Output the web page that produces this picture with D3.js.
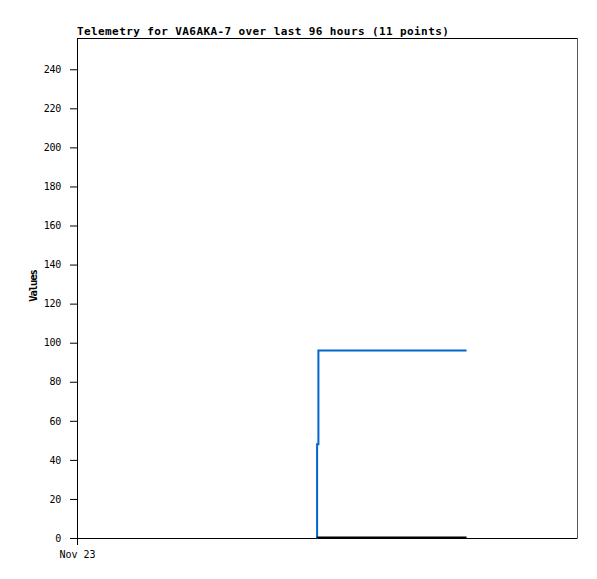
<!DOCTYPE html>
<html>
<head>
<meta charset="utf-8">
<script src="https://cdn.jsdelivr.net/npm/d3@7"></script>
<style>
  body { margin: 0; background: #fff; }
  text { font-family: "DejaVu Sans Mono", monospace; fill: #000; }
</style>
</head>
<body>
<div id="chart"></div>
<script>
// hours since Nov 23 00:00, 11 telemetry points
const hours = [46.05, 46.1, 46.35, 49.6, 52.8, 56.0, 59.3, 62.5, 65.8, 69.1, 74.8];
const chanA = [0, 48, 96, 96, 96, 96, 96, 96, 96, 96, 96];
const chanB = [0, 0, 0, 0, 0, 0, 0, 0, 0, 0, 0];
const yTicks = [0, 20, 40, 60, 80, 100, 120, 140, 160, 180, 200, 220, 240];
const start = new Date(2023, 10, 23, 0, 0);

const W = 597, H = 579;
const margin = {top: 38, right: 20, bottom: 41, left: 77};
const width = W - margin.left - margin.right;
const height = H - margin.top - margin.bottom;

const svg = d3.select('#chart').append('svg')
  .attr('width', W).attr('height', H);

const g = svg.append('g')
  .attr('transform', `translate(${margin.left}, ${margin.top})`);

const x = d3.scaleTime()
  .domain([start, d3.timeHour.offset(start, 96)])
  .range([0, width]);
const y = d3.scaleLinear().domain([0, 256]).range([height, 0]);

const t = h => new Date(start.getTime() + h * 3600e3);

// frame
g.append('line').attr('x1', 0).attr('x2', width).attr('y1', 0.5).attr('y2', 0.5)
  .attr('stroke', '#000');
g.append('line').attr('x1', width + 0.5).attr('x2', width + 0.5).attr('y1', 0).attr('y2', height)
  .attr('stroke', '#555');

// y axis
const yAxis = g.append('g')
  .call(d3.axisLeft(y).tickValues(yTicks).tickSize(7).tickPadding(9).tickSizeOuter(0));
yAxis.select('.domain').attr('stroke', '#000');
yAxis.selectAll('text').style('font-size', '10px').style('letter-spacing', '-0.3px');

// x axis
const xAxis = g.append('g')
  .attr('transform', `translate(0, ${height})`)
  .call(d3.axisBottom(x).tickValues([start]).tickSize(7).tickPadding(5).tickSizeOuter(0)
    .tickFormat(d3.timeFormat('%b %d')));
xAxis.selectAll('text').style('font-size', '10px').attr('dy', '0.75em');

const pts = (vals) => hours.map((h, i) => ({t: t(h), v: vals[i]}));
const line = d3.line().x(d => x(d.t)).y(d => y(d.v)).curve(d3.curveStepAfter);

g.append('path').datum(pts(chanA))
  .attr('d', line).attr('fill', 'none')
  .attr('stroke', '#0066cc').attr('stroke-width', 2);

g.append('path').datum(pts(chanB))
  .attr('d', line).attr('fill', 'none')
  .attr('stroke', '#000').attr('stroke-width', 2)
  .attr('transform', 'translate(0,-0.5)');

// title
svg.append('text')
  .attr('x', margin.left).attr('y', 35)
  .style('font-size', '11px').style('font-weight', 'bold').style('letter-spacing', '0.4px')
  .text('Telemetry for VA6AKA-7 over last 96 hours (11 points)');

// y label
svg.append('text')
  .attr('transform', `translate(37, ${margin.top + height / 2 - 2}) rotate(-90)`)
  .attr('text-anchor', 'middle')
  .style('font-size', '10.5px').style('font-weight', 'bold').style('letter-spacing', '-1.1px')
  .text('Values');
</script>
</body>
</html>
